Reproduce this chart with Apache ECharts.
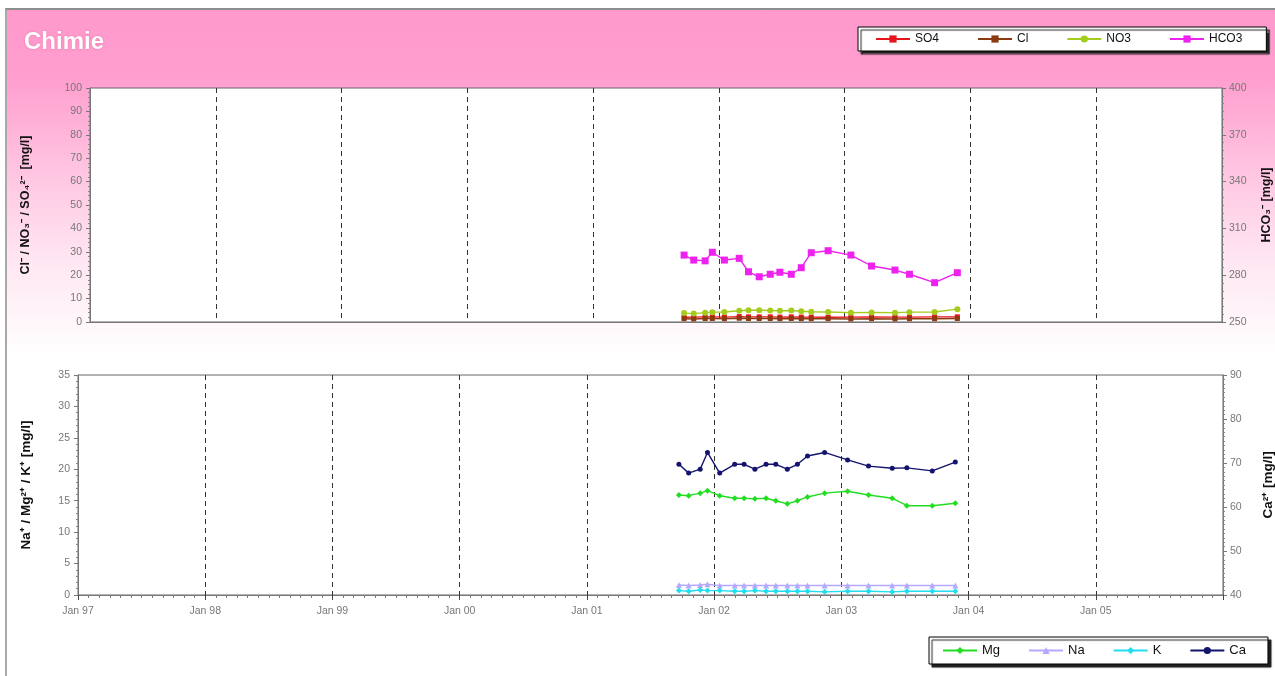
<!DOCTYPE html>
<html>
<head>
<meta charset="utf-8">
<title>Chimie</title>
<script src="https://cdn.jsdelivr.net/npm/echarts@6.0.0/dist/echarts.min.js"></script>
<style>
  html, body { margin: 0; padding: 0; background: #fff; }
  #frame {
    position: absolute; left: 5px; top: 8px; width: 1270px; height: 668px;
    border-left: 2px solid #a9a9a9; border-top: 2px solid #8c8c8c;
    background: linear-gradient(to bottom, #ff99cb 0px, #ff9fcf 70px, #ffc4e1 160px, #ffe6f2 250px, #ffffff 345px);
  }
  #main { position: absolute; left: 0; top: 0; width: 1275px; height: 676px; }
</style>
</head>
<body>
<div id="frame"></div>
<div id="main"></div>
<script>
  // sampling dates (shared by all parameters)
  const dates = ['2001-09-22', '2001-10-20', '2001-11-22', '2001-12-13', '2002-01-17', '2002-03-01',
    '2002-03-28', '2002-04-28', '2002-05-30', '2002-06-27', '2002-07-30', '2002-08-28', '2002-09-26',
    '2002-11-14', '2003-01-19', '2003-03-20', '2003-05-27', '2003-07-08', '2003-09-19', '2003-11-24']

  // anions [mg/l]
  const so4 = [2.0, 2.1, 2.2, 2.2, 2.1, 2.3, 2.2, 2.2, 2.2, 2.1, 2.2, 2.1, 2.1, 2.0, 2.1, 2.2, 2.1, 2.1, 2.2, 2.2]
  const cl = [1.4, 1.3, 1.5, 1.5, 1.4, 1.6, 1.5, 1.5, 1.5, 1.4, 1.5, 1.4, 1.4, 1.4, 1.3, 1.4, 1.3, 1.4, 1.4, 1.5]
  const no3 = [3.8, 3.6, 4.0, 4.2, 4.3, 4.8, 5.0, 5.0, 4.9, 4.8, 4.9, 4.6, 4.4, 4.3, 4.0, 4.1, 4.0, 4.2, 4.3, 5.5]
  const hco3 = [292.9, 289.7, 289.2, 294.7, 289.7, 290.8, 282.2, 279.0, 280.6, 281.9, 280.6, 284.8, 294.4,
    295.7, 292.9, 285.9, 283.3, 280.6, 275.2, 281.6]

  // cations [mg/l]
  const mg = [15.9, 15.8, 16.2, 16.6, 15.8, 15.4, 15.4, 15.3, 15.4, 15.0, 14.5, 15.0, 15.6, 16.2, 16.5,
    15.9, 15.4, 14.2, 14.2, 14.6]
  const na = [1.6, 1.5, 1.6, 1.7, 1.5, 1.5, 1.5, 1.5, 1.5, 1.5, 1.5, 1.5, 1.5, 1.5, 1.5, 1.5, 1.5, 1.5, 1.5, 1.5]
  const k = [0.7, 0.6, 0.8, 0.7, 0.7, 0.6, 0.6, 0.7, 0.6, 0.6, 0.6, 0.6, 0.6, 0.5, 0.6, 0.6, 0.5, 0.6, 0.6, 0.6]
  const ca = [69.7, 67.7, 68.6, 72.4, 67.7, 69.7, 69.7, 68.6, 69.7, 69.7, 68.6, 69.7, 71.6, 72.4, 70.7,
    69.3, 68.8, 68.9, 68.2, 70.2]

  const yearMin = 1997
  const yearMax = 2006

  const toYear = (d) => {
    const t = new Date(d + 'T00:00:00Z')
    const y = t.getUTCFullYear()
    const start = Date.UTC(y, 0, 1)
    const end = Date.UTC(y + 1, 0, 1)
    return y + (t.getTime() - start) / (end - start)
  }
  const pair = (vals) => dates.map((d, i) => [toYear(d), vals[i]])

  const font = 'Liberation Sans, Arial, sans-serif'
  const dashed = { show: true, showMinLine: false, showMaxLine: false, lineStyle: { color: '#333', type: [5, 4], width: 1 } }
  const labelStyle = { color: '#777', fontSize: 10.5, fontFamily: font }
  const nameStyle = { color: '#111', fontSize: 12.5, fontWeight: 'bold', fontFamily: font }
  const axisLine = { show: true, lineStyle: { color: '#777' } }

  const line = (name, data, color, symbol, size, x, y) => ({
    name, type: 'line', xAxisIndex: x, yAxisIndex: y, data: pair(data),
    symbol, symbolSize: size, showSymbol: true,
    lineStyle: { color, width: 1.4 }, itemStyle: { color },
    emphasis: { disabled: true }, animation: false
  })

  const myChart = echarts.init(document.getElementById('main'))
  const option = {
    backgroundColor: 'transparent',
    animation: false,
    title: {
      text: 'Chimie', left: 19, top: 25,
      textStyle: { color: '#fff', fontSize: 24, fontWeight: 'bold', fontFamily: font,
        textShadowColor: 'rgba(200,60,120,0.5)', textShadowBlur: 2 }
    },
    legend: [{
      data: ['SO4', 'Cl', 'NO3', 'HCO3'],
      left: 858, top: 27, orient: 'horizontal',
      padding: [6, 24, 6, 17], itemGap: 38, itemWidth: 34, itemHeight: 9,
      backgroundColor: '#fff', borderColor: '#000', borderWidth: 1,
      shadowColor: '#222', shadowOffsetX: 3, shadowOffsetY: 3, shadowBlur: 1,
      textStyle: { color: '#111', fontSize: 12, fontFamily: font }
    }, {
      data: ['Mg', 'Na', 'K', 'Ca'],
      left: 929, top: 637, orient: 'horizontal',
      padding: [7, 22, 7, 13], itemGap: 28, itemWidth: 34, itemHeight: 9,
      backgroundColor: '#fff', borderColor: '#000', borderWidth: 1,
      shadowColor: '#222', shadowOffsetX: 3, shadowOffsetY: 3, shadowBlur: 1,
      textStyle: { color: '#111', fontSize: 13, fontFamily: font }
    }],
    grid: [
      { left: 90, right: 53, top: 88, height: 234, outerBoundsMode: 'none', containLabel: false,
        show: true, backgroundColor: '#fff', borderColor: '#666', borderWidth: 1 },
      { left: 78, right: 52, top: 375, height: 220, outerBoundsMode: 'none', containLabel: false,
        show: true, backgroundColor: '#fff', borderColor: '#666', borderWidth: 1 }
    ],
    xAxis: [{
      type: 'value', gridIndex: 0, min: yearMin, max: yearMax, interval: 1,
      axisLine, axisTick: { show: false }, axisLabel: { show: false }, splitLine: dashed
    }, {
      type: 'value', gridIndex: 1, min: yearMin, max: yearMax, interval: 1,
      axisLine,
      axisTick: { show: true, length: 5, lineStyle: { color: '#444' } },
      minorTick: { show: true, splitNumber: 12, length: 3, lineStyle: { color: '#777' } },
      axisLabel: { ...labelStyle, margin: 11, showMaxLabel: false, formatter: (v) => 'Jan ' + String(v).slice(2) },
      splitLine: dashed
    }],
    yAxis: [{
      type: 'value', gridIndex: 0, min: 0, max: 100, interval: 10, position: 'left',
      name: 'Cl⁻ / NO₃⁻ / SO₄²⁻  [mg/l]', nameLocation: 'middle', nameRotate: 90, nameGap: 58, nameTextStyle: nameStyle,
      axisLine, axisTick: { show: true, length: 4, lineStyle: { color: '#777' } },
      minorTick: { show: true, splitNumber: 5, length: 2, lineStyle: { color: '#888' } },
      axisLabel: { ...labelStyle, margin: 8 }, splitLine: { show: false }
    }, {
      type: 'value', gridIndex: 0, min: 250, max: 400, interval: 30, position: 'right',
      name: 'HCO₃⁻ [mg/l]', nameLocation: 'middle', nameRotate: 90, nameGap: 38, nameTextStyle: nameStyle,
      axisLine, axisTick: { show: true, length: 4, lineStyle: { color: '#777' } },
      minorTick: { show: true, splitNumber: 6, length: 2, lineStyle: { color: '#888' } },
      axisLabel: { ...labelStyle, margin: 7 }, splitLine: { show: false }
    }, {
      type: 'value', gridIndex: 1, min: 0, max: 35, interval: 5, position: 'left',
      name: 'Na⁺ / Mg²⁺ / K⁺ [mg/l]', nameLocation: 'middle', nameRotate: 90, nameGap: 45,
      nameTextStyle: { ...nameStyle, fontSize: 13.5 },
      axisLine, axisTick: { show: true, length: 4, lineStyle: { color: '#777' } },
      minorTick: { show: true, splitNumber: 5, length: 2, lineStyle: { color: '#888' } },
      axisLabel: { ...labelStyle, margin: 8 }, splitLine: { show: false }
    }, {
      type: 'value', gridIndex: 1, min: 40, max: 90, interval: 10, position: 'right',
      name: 'Ca²⁺ [mg/l]', nameLocation: 'middle', nameRotate: 90, nameGap: 38,
      nameTextStyle: { ...nameStyle, fontSize: 13.5 },
      axisLine, axisTick: { show: true, length: 4, lineStyle: { color: '#777' } },
      minorTick: { show: true, splitNumber: 10, length: 2, lineStyle: { color: '#888' } },
      axisLabel: { ...labelStyle, margin: 7 }, splitLine: { show: false }
    }],
    series: [
      line('SO4', so4, '#e8141c', 'rect', 5, 0, 0),
      line('Cl', cl, '#8b3a12', 'rect', 5, 0, 0),
      line('NO3', no3, '#a4cc1c', 'circle', 6, 0, 0),
      line('HCO3', hco3, '#ee22ee', 'rect', 7, 0, 1),
      line('Mg', mg, '#22dd22', 'diamond', 6, 1, 2),
      line('Na', na, '#b4a8ff', 'triangle', 6, 1, 2),
      line('K', k, '#22ddee', 'diamond', 6, 1, 2),
      line('Ca', ca, '#14146e', 'circle', 5, 1, 3)
    ]
  }
  myChart.setOption(option)
</script>
</body>
</html>
